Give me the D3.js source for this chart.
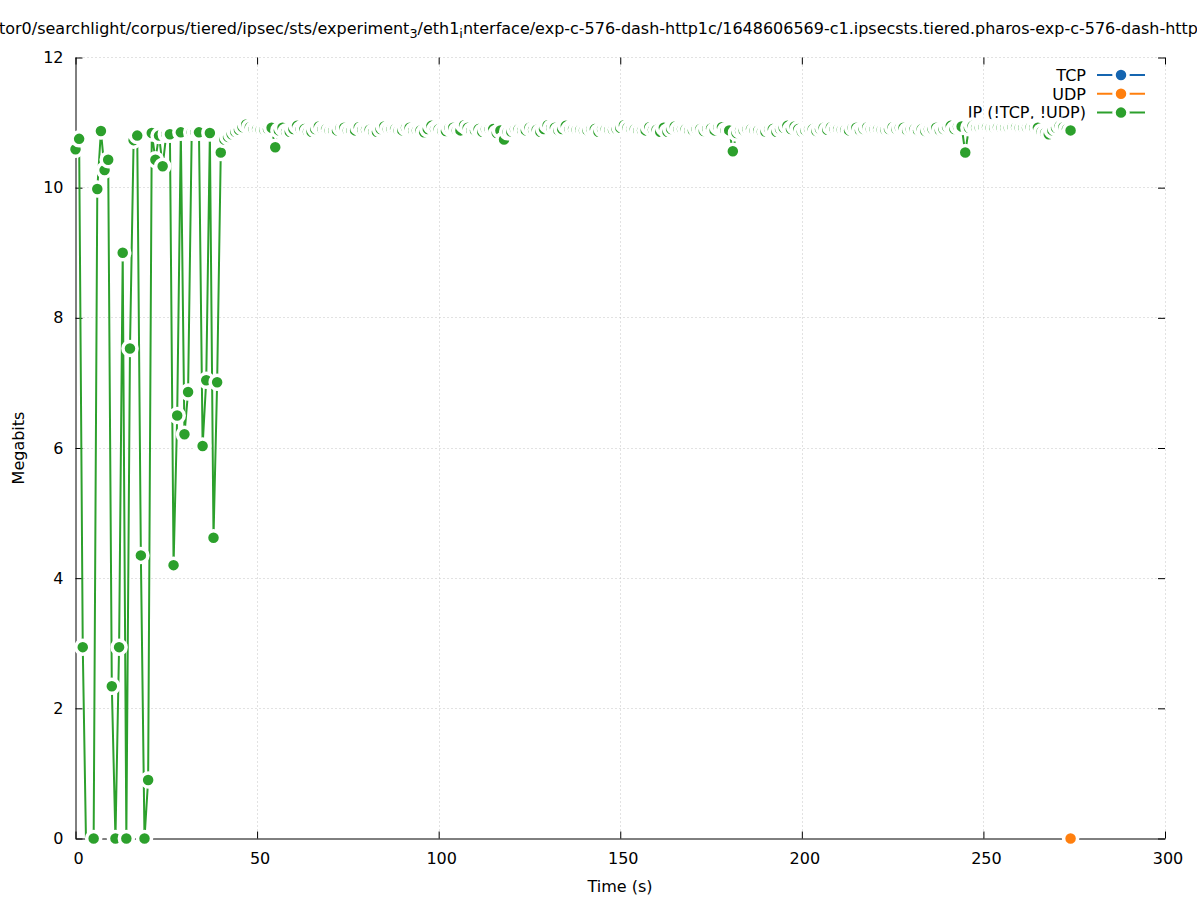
<!DOCTYPE html>
<html><head><meta charset="utf-8">
<script src="https://cdn.jsdelivr.net/npm/d3@7"></script>
<style>
body{margin:0;background:#fff}
svg{display:block;font-family:"DejaVu Sans",sans-serif}
</style>
</head><body>
<svg id="c" width="1197" height="900"></svg>
<script>
// ---------- data ----------
const xTicks = [0, 50, 100, 150, 200, 250, 300];
const yTicks = [0, 2, 4, 6, 8, 10, 12];
const seriesNames = ["TCP", "UDP", "IP (!TCP, !UDP)"];
const seriesColors = ["#1565b0", "#ff7f0e", "#2ca02c"];
const tcpTimes = [];
const tcpValues = [];
const udpTimes = [274];
const udpValues = [0];
// IP (!TCP, !UDP): one sample per second starting at t = 0
const ipStart = 0;
const ipEarly = [ // t 0..40
  10.59, 10.75, 2.94, -0.4, -0.4, 0, 9.98, 10.87, 10.27, 10.43,
  2.34, 0, 2.94, 9.0, 0, 7.53, 10.73, 10.8, 4.35, 0,
  0.9, 10.84, 10.43, 10.8, 10.33, 10.82, 10.82, 4.2, 6.5, 10.85,
  6.21, 6.86, 10.85, 10.85, 10.85, 6.03, 7.04, 10.84, 4.62, 7.01,
  10.54];
const ipMid = [ // t 41..117
  10.74, 10.78, 10.82, 10.86, 10.89, 10.93, 10.97, 10.93, 10.90, 10.90, 10.89, 10.89, 10.90, 10.92,
  10.62,
  10.88, 10.92, 10.86, 10.86, 10.90, 10.95, 10.90, 10.90, 10.86, 10.86,
  10.90, 10.94, 10.90, 10.90, 10.88, 10.88, 10.88, 10.92, 10.92, 10.88,
  10.88, 10.88, 10.93, 10.89, 10.89, 10.89, 10.86, 10.86, 10.90, 10.94,
  10.90, 10.90, 10.90, 10.88, 10.88, 10.92, 10.92, 10.88, 10.88, 10.88,
  10.85, 10.90, 10.95, 10.90, 10.90, 10.87, 10.87, 10.92, 10.92, 10.88,
  10.88, 10.96, 10.92, 10.88, 10.88, 10.90, 10.86, 10.90, 10.90, 10.90, 10.84, 10.88];
const ipLate = [ // t 118..274
  10.74,
  10.86, 10.86, 10.90, 10.90, 10.88, 10.88, 10.92, 10.89, 10.89, 10.86, 10.90,
  10.96, 10.92, 10.92, 10.88, 10.90, 10.95, 10.90, 10.90, 10.89, 10.89,
  10.88, 10.88, 10.90, 10.90, 10.86, 10.90, 10.90, 10.89, 10.89, 10.90,
  10.92, 10.96, 10.92, 10.90, 10.90, 10.88, 10.88, 10.88, 10.93, 10.89,
  10.89, 10.86, 10.92, 10.86, 10.90, 10.94, 10.90, 10.90, 10.90, 10.88,
  10.88, 10.90, 10.90, 10.87, 10.91, 10.91, 10.88, 10.93, 10.93, 10.88, 10.88,
  10.56,
  10.84, 10.88, 10.88, 10.90, 10.90, 10.88, 10.88, 10.86, 10.86, 10.90,
  10.90, 10.86, 10.90, 10.92, 10.95, 10.90, 10.94, 10.90, 10.86, 10.88,
  10.90, 10.90, 10.87, 10.90, 10.92, 10.89, 10.93, 10.90, 10.90, 10.89,
  10.89, 10.88, 10.92, 10.92, 10.88, 10.90, 10.93, 10.90, 10.90, 10.90,
  10.89, 10.89, 10.90, 10.93, 10.90, 10.92, 10.92, 10.88, 10.90, 10.90,
  10.88, 10.90, 10.87, 10.90, 10.90, 10.92, 10.88, 10.90, 10.93, 10.95, 10.90, 10.94, 10.94,
  10.54,
  10.92, 10.95, 10.92, 10.92, 10.93, 10.93, 10.92, 10.92, 10.93, 10.92,
  10.92, 10.92, 10.93, 10.93, 10.92, 10.92, 10.92, 10.93, 10.92, 10.92,
  10.86, 10.84, 10.82, 10.88, 10.92, 10.95, 10.93, 10.90,
  10.88];
const ipValues = ipEarly.concat(ipMid, ipLate);
const ipTimes = ipValues.map((v, i) => ipStart + i);

const titleParts = [
  ["tor0/searchlight/corpus/tiered/ipsec/sts/experiment", false],
  ["3", true],
  ["/eth1", false],
  ["i", true],
  ["nterface/exp-c-576-dash-http1c/1648606569-c1.ipsecsts.tiered.pharos-exp-c-576-dash-http", false],
  ["1c.pcap", false]
];

// ---------- layout ----------
const FS = 16;
const svg = d3.select("#c");
const x = d3.scaleLinear().domain([0, 300]).range([75.5, 1165]);
const y = d3.scaleLinear().domain([0, 12]).range([838.5, 57.5]);
const [x0, x1] = x.range();
const [y0, y1] = y.range();

svg.append("defs").append("clipPath").attr("id", "plotclip")
  .append("rect").attr("x", x0).attr("y", y1).attr("width", x1 - x0).attr("height", y0 - y1);

// grid
const grid = svg.append("g").attr("stroke", "#c4c4c4").attr("stroke-width", 1).attr("stroke-dasharray", "1,3");
grid.selectAll("line.gx").data(xTicks.filter(t => t > 0)).join("line")
  .attr("x1", d => Math.round(x(d)) + 0.5).attr("x2", d => Math.round(x(d)) + 0.5)
  .attr("y1", y0).attr("y2", y1);
grid.selectAll("line.gy").data(yTicks.filter(t => t > 0)).join("line")
  .attr("x1", x0).attr("x2", x1)
  .attr("y1", d => Math.round(y(d) - 0.5) + 0.5).attr("y2", d => Math.round(y(d) - 0.5) + 0.5);

// axes (gnuplot style: inward ticks, mirrored)
const gx = svg.append("g").attr("transform", `translate(0,${y0})`)
  .call(d3.axisBottom(x).tickValues(xTicks).tickSize(-7).tickPadding(14).tickSizeOuter(0));
const gy = svg.append("g").attr("transform", `translate(${x0},0)`)
  .call(d3.axisLeft(y).tickValues(yTicks).tickSize(-7).tickPadding(12).tickSizeOuter(0));
const gxt = svg.append("g").attr("transform", `translate(0,${y1})`)
  .call(d3.axisTop(x).tickValues(xTicks).tickSize(-7).tickFormat("").tickSizeOuter(0));
const gyr = svg.append("g").attr("transform", `translate(${x1},0)`)
  .call(d3.axisRight(y).tickValues(yTicks).tickSize(-7).tickFormat("").tickSizeOuter(0));
gxt.select(".domain").remove();
gyr.select(".domain").remove();
[gx, gy, gxt, gyr].forEach(g => {
  g.selectAll("text").attr("font-size", FS).attr("font-family", "DejaVu Sans").attr("fill", "#000");
  g.selectAll("line,path").attr("stroke", "#000");
});
gx.selectAll("text").attr("dx", 2.5).attr("dy", "0.71em");

// axis titles
svg.append("text").attr("x", 620).attr("y", 892).attr("text-anchor", "middle").attr("font-size", FS).text("Time (s)");
svg.append("text").attr("transform", "translate(24,448) rotate(-90)").attr("text-anchor", "middle").attr("font-size", FS).text("Megabits");

// title (gnuplot enhanced text: _3 and _i become subscripts); overflows the canvas as in the original
function buildTitle(size, parts) {
  const t = svg.append("text").attr("x", -1).attr("y", 33.5).attr("font-size", size);
  parts.forEach(([s, sub], i) => {
    const ts = t.append("tspan").text(s);
    if (sub) ts.attr("font-size", size * 0.8).attr("dy", 4);
    else if (i > 0 && parts[i - 1][1]) ts.attr("dy", -4);
  });
  return t;
}
const probe = buildTitle(FS, titleParts.slice(0, 5));
const visW = probe.node().getComputedTextLength();
probe.remove();
buildTitle(FS * 1200 / visW, titleParts);

// legend
const legend = svg.append("g");
seriesNames.forEach((n, i) => {
  const cy = 75 + i * 18.8;
  legend.append("text").attr("x", 1086).attr("y", cy + 5.8).attr("text-anchor", "end").attr("font-size", FS).text(n);
  legend.append("line").attr("x1", 1097).attr("x2", 1145).attr("y1", cy).attr("y2", cy)
    .attr("stroke", seriesColors[i]).attr("stroke-width", 2);
  legend.append("circle").attr("cx", 1121).attr("cy", cy).attr("r", 7)
    .attr("fill", seriesColors[i]).attr("stroke", "#fff").attr("stroke-width", 3.5);
});

// series: lines first (clipped to the plot), then points in order, each with a white ring
const plot = svg.append("g");
const line = d3.line().x(d => x(d[0])).y(d => y(d[1]));
function drawSeries(times, values, color) {
  const pts = times.map((t, i) => [t, values[i]]);
  if (!pts.length) return;
  plot.append("path").attr("d", line(pts)).attr("fill", "none").attr("clip-path", "url(#plotclip)")
    .attr("stroke", color).attr("stroke-width", 2).attr("stroke-linejoin", "round");
  pts.filter(p => p[1] >= 0).forEach(p => {
    plot.append("circle").attr("cx", x(p[0])).attr("cy", y(p[1])).attr("r", 7)
      .attr("fill", color).attr("stroke", "#fff").attr("stroke-width", 3.5);
  });
}
drawSeries(tcpTimes, tcpValues, seriesColors[0]);
drawSeries(udpTimes, udpValues, seriesColors[1]);
drawSeries(ipTimes, ipValues, seriesColors[2]);
</script>
</body></html>
